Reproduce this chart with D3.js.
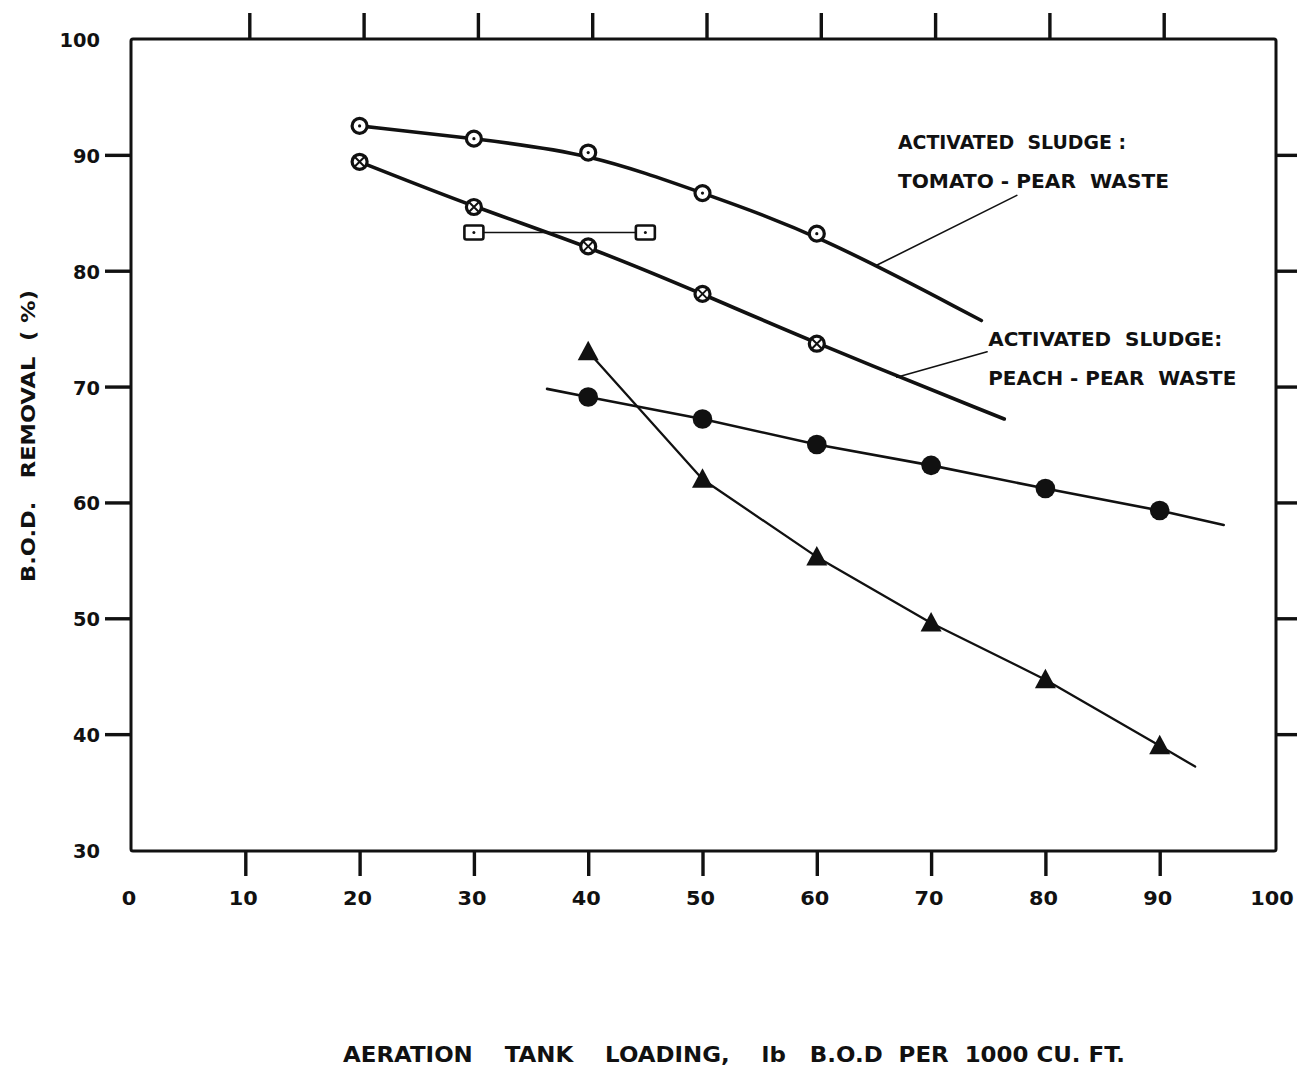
<!DOCTYPE html>
<html>
<head>
<meta charset="utf-8">
<script src="https://cdn.jsdelivr.net/npm/d3@7"></script>
<style>
  html, body { margin: 0; padding: 0; background: #fff; }
  svg { display: block; }
  text { font-family: "DejaVu Sans", sans-serif; font-weight: bold; fill: #111; }
</style>
</head>
<body>
<svg id="chart" width="1297" height="1077"></svg>
<script>
// Axis ticks
const xTicks = [0, 10, 20, 30, 40, 50, 60, 70, 80, 90, 100];
const yTicks = [30, 40, 50, 60, 70, 80, 90, 100];
const innerTicksX = [10, 20, 30, 40, 50, 60, 70, 80, 90];
const innerTicksY = [40, 50, 60, 70, 80, 90];

// Activated sludge: tomato-pear waste (circle with dot)
const loadingTomato = [20, 30, 40, 50, 60];
const removalTomato = [92.5, 91.4, 90.2, 86.7, 83.2];
const tomatoCurveEnd = [74.4, 75.7];

// Activated sludge: peach-pear waste (crossed circle)
const loadingPeach = [20, 30, 40, 50, 60];
const removalPeach = [89.4, 85.5, 82.1, 78.0, 73.7];
const peachCurveEnd = [76.4, 67.2];

// Square markers
const loadingSquare = [30, 45];
const removalSquare = [83.3, 83.3];

// Filled circles
const loadingDot = [40, 50, 60, 70, 80, 90];
const removalDot = [69.1, 67.2, 65.0, 63.2, 61.2, 59.3];
const dotLineStart = [36.4, 69.8];
const dotLineEnd = [95.6, 58.05];

// Filled triangles
const loadingTri = [40, 50, 60, 70, 80, 90];
const removalTri = [73.0, 62.0, 55.3, 49.6, 44.7, 39.0];
const triCurveEnd = [93.1, 37.2];

const svg = d3.select("#chart");
const x = d3.scaleLinear().domain([0, 100]).range([131, 1274]);
const y = d3.scaleLinear().domain([30, 100]).range([850, 39]);

const ink = "#111";
const zip = (xs, ys) => xs.map((v, i) => [v, ys[i]]);

// Frame
svg.append("rect")
  .attr("x", x(0)).attr("y", y(100))
  .attr("width", x(100) + 2 - x(0)).attr("height", y(30) + 1 - y(100))
  .attr("rx", 2)
  .attr("fill", "none").attr("stroke", ink).attr("stroke-width", 3);

// Outward ticks on all four sides
const tickLen = 26;
const bottomAxis = d3.axisBottom(x).tickValues(innerTicksX).tickSize(tickLen).tickFormat("");
const topAxis = d3.axisTop(x).tickValues(innerTicksX).tickSize(tickLen).tickFormat("");
const leftAxis = d3.axisLeft(y).tickValues(innerTicksY).tickSize(tickLen).tickFormat("");
const rightAxis = d3.axisRight(y).tickValues(innerTicksY).tickSize(tickLen).tickFormat("");

function styleAxis(g) {
  g.select(".domain").remove();
  g.selectAll(".tick line").attr("stroke", ink).attr("stroke-width", 3.4);
}
svg.append("g").attr("transform", `translate(0,${y(30)})`).call(bottomAxis).call(styleAxis);
svg.append("g").attr("transform", `translate(4,${y(100)})`).call(topAxis).call(styleAxis);
svg.append("g").attr("transform", `translate(${x(0)},0)`).call(leftAxis).call(styleAxis);
svg.append("g").attr("transform", `translate(${x(100) + 2},0)`).call(rightAxis).call(styleAxis);

// Tick labels (wide, round lettering)
const digitW = 14.5;
svg.append("g").selectAll("text").data(xTicks).join("text")
  .attr("x", d => x(d) - 2).attr("y", 905)
  .attr("text-anchor", "middle").attr("font-size", 20)
  .attr("textLength", d => String(d).length * digitW).attr("lengthAdjust", "spacingAndGlyphs")
  .text(d => d);
svg.append("g").selectAll("text").data(yTicks).join("text")
  .attr("x", 100).attr("y", d => y(d) + 8)
  .attr("text-anchor", "end").attr("font-size", 20)
  .attr("textLength", d => String(d).length * 13.5).attr("lengthAdjust", "spacingAndGlyphs")
  .text(d => d);

// Axis titles
svg.append("text")
  .attr("transform", `translate(35,${436}) rotate(-90)`)
  .attr("text-anchor", "middle").attr("font-size", 20)
  .attr("textLength", 292).attr("lengthAdjust", "spacingAndGlyphs")
  .attr("xml:space", "preserve")
  .text("B.O.D.   REMOVAL  ( %)");
svg.append("text")
  .attr("x", 343).attr("y", 1062)
  .attr("font-size", 22)
  .attr("textLength", 782).attr("lengthAdjust", "spacingAndGlyphs")
  .attr("xml:space", "preserve")
  .text("AERATION    TANK    LOADING,    lb   B.O.D  PER  1000 CU. FT.");

// Lines: the two activated-sludge curves are drawn as smoothed trend curves
const line = d3.line().x(d => x(d[0])).y(d => y(d[1]));
const smooth = d3.line().x(d => x(d[0])).y(d => y(d[1])).curve(d3.curveBasis);

function drawPath(pts, gen, w) {
  svg.append("path").datum(pts)
    .attr("d", gen).attr("fill", "none")
    .attr("stroke", ink).attr("stroke-width", w)
    .attr("stroke-linecap", "round").attr("stroke-linejoin", "round");
}
drawPath(zip(loadingTomato, removalTomato).concat([tomatoCurveEnd]), smooth, 3.6);
drawPath(zip(loadingPeach, removalPeach).concat([peachCurveEnd]), smooth, 3.6);
drawPath(zip(loadingSquare, removalSquare), line, 1.6);
drawPath([dotLineStart].concat(zip(loadingDot, removalDot), [dotLineEnd]), line, 2.6);
drawPath(zip(loadingTri, removalTri).concat([triCurveEnd]), line, 2.3);

// Leader lines to the labels
const leaders = [
  [[77.5, 86.5], [65.1, 80.4]],
  [[74.9, 73.0], [67.0, 70.8]]
];
leaders.forEach(l => drawPath(l, line, 1.6));

// Labels
const labels = [
  { lx: 67.1, ly: 90.5, text: "ACTIVATED  SLUDGE :", len: 228 },
  { lx: 67.1, ly: 87.1, text: "TOMATO - PEAR  WASTE", len: 271 },
  { lx: 75.0, ly: 73.5, text: "ACTIVATED  SLUDGE:", len: 234 },
  { lx: 75.0, ly: 70.1, text: "PEACH - PEAR  WASTE", len: 248 }
];
svg.append("g").selectAll("text").data(labels).join("text")
  .attr("x", d => x(d.lx)).attr("y", d => y(d.ly))
  .attr("font-size", 20)
  .attr("textLength", d => d.len).attr("lengthAdjust", "spacingAndGlyphs")
  .attr("xml:space", "preserve")
  .text(d => d.text);

// Markers: circle with center dot
const gTom = svg.append("g").selectAll("g").data(zip(loadingTomato, removalTomato)).join("g")
  .attr("transform", d => `translate(${x(d[0])},${y(d[1])})`);
gTom.append("circle").attr("r", 7.5).attr("fill", "#fff").attr("stroke", ink).attr("stroke-width", 3.2);
gTom.append("circle").attr("r", 1.6).attr("fill", ink);

// Markers: crossed circle
const gPea = svg.append("g").selectAll("g").data(zip(loadingPeach, removalPeach)).join("g")
  .attr("transform", d => `translate(${x(d[0])},${y(d[1])})`);
gPea.append("circle").attr("r", 7.5).attr("fill", "#fff").attr("stroke", ink).attr("stroke-width", 3.2);
gPea.append("path").attr("d", "M-5,-5L5,5M5,-5L-5,5").attr("stroke", ink).attr("stroke-width", 2);

// Markers: square with center dot
const gSq = svg.append("g").selectAll("g").data(zip(loadingSquare, removalSquare)).join("g")
  .attr("transform", d => `translate(${x(d[0])},${y(d[1])})`);
gSq.append("rect").attr("x", -9.5).attr("y", -7).attr("width", 19).attr("height", 14).attr("rx", 2)
  .attr("fill", "#fff").attr("stroke", ink).attr("stroke-width", 2.6);
gSq.append("circle").attr("r", 1.5).attr("fill", ink);

// Markers: filled circle
svg.append("g").selectAll("circle").data(zip(loadingDot, removalDot)).join("circle")
  .attr("cx", d => x(d[0])).attr("cy", d => y(d[1])).attr("r", 9.8).attr("fill", ink);

// Markers: filled triangle
svg.append("g").selectAll("path").data(zip(loadingTri, removalTri)).join("path")
  .attr("transform", d => `translate(${x(d[0])},${y(d[1])})`)
  .attr("d", "M0,-11L10.5,8.5L-10.5,8.5Z").attr("fill", ink);
</script>
</body>
</html>
